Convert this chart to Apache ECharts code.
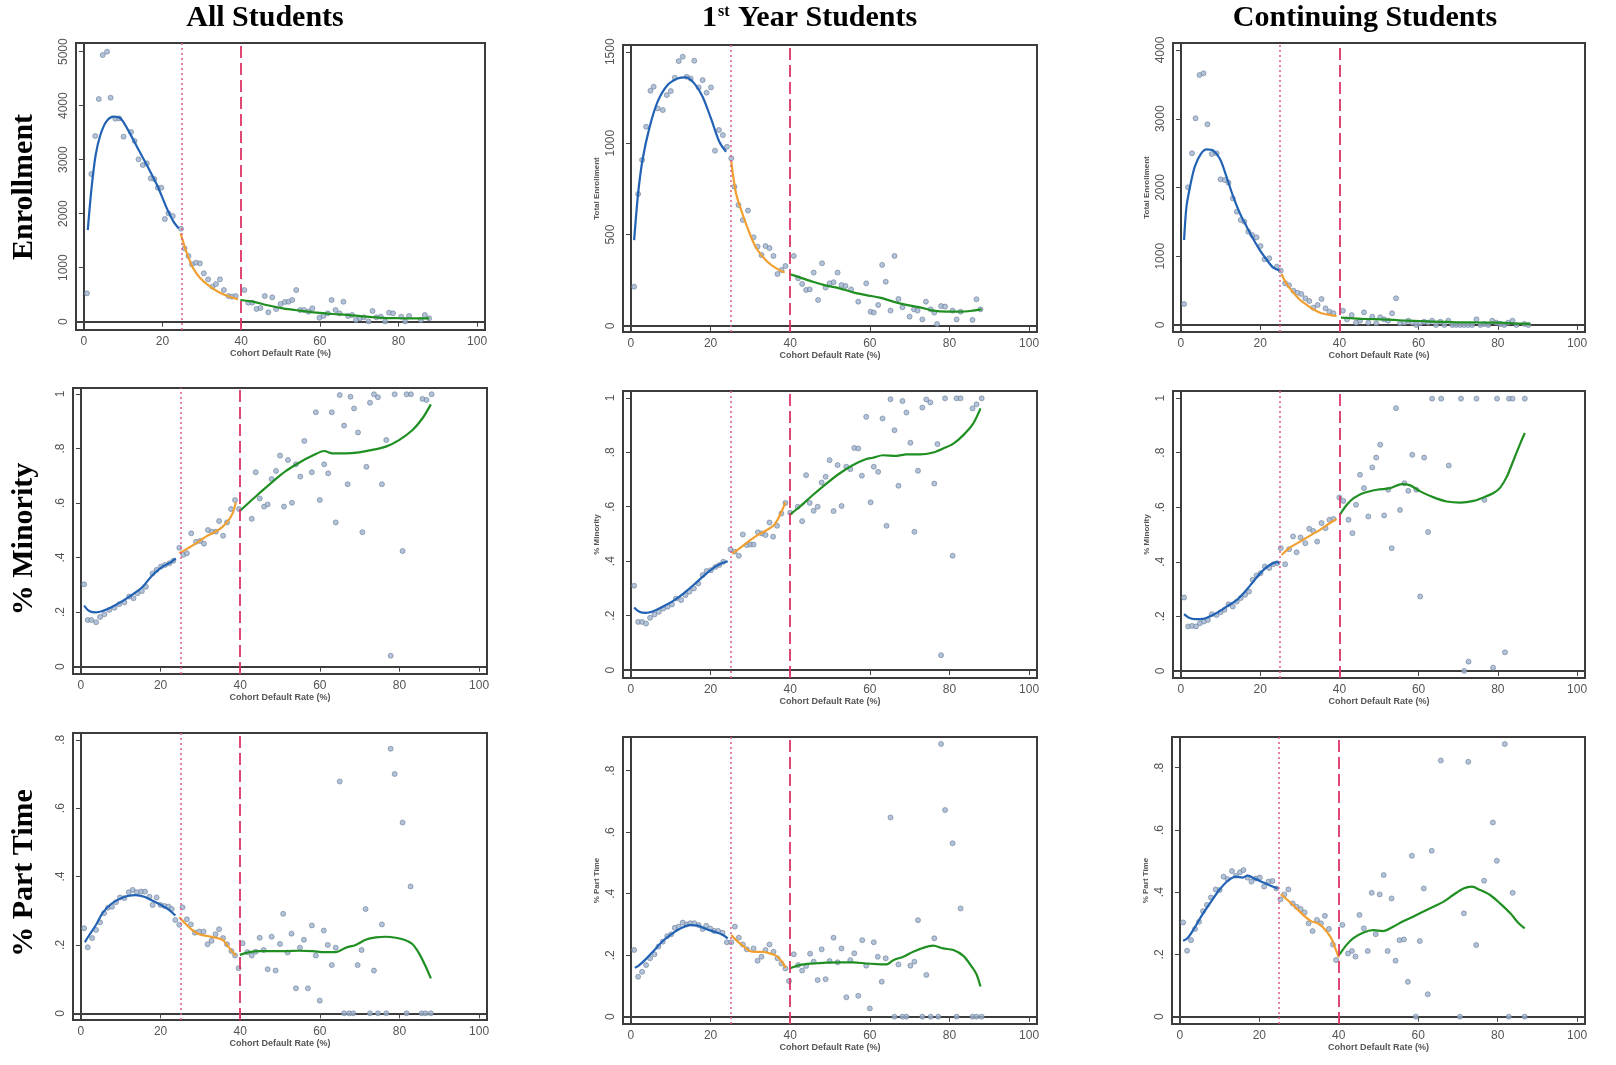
<!DOCTYPE html>
<html>
<head>
<meta charset="utf-8">
<script src="https://cdn.jsdelivr.net/npm/echarts@6/dist/echarts.min.js"></script>
<style>
  html, body { margin: 0; padding: 0; background: #fff; }
  #chart { width: 1616px; height: 1065px; }
</style>
</head>
<body>
<div id="chart"></div>
<script>
// x axis ticks, same for all panels
var xTicks = [0, 20, 40, 60, 80, 100];
var enrTicksAll = [0, 1000, 2000, 3000, 4000, 5000];
var enrTicksFirst = [0, 500, 1000, 1500];
var enrTicksCont = [0, 1000, 2000, 3000, 4000];
var minTicks = [0, 0.2, 0.4, 0.6, 0.8, 1];
var ptTicks = [0, 0.2, 0.4, 0.6, 0.8];

var colTitles = ['All Students', '1st Year Students', 'Continuing Students'];
var rowTitles = ['Enrollment', '% Minority', '% Part Time'];

// ---- Enrollment, all students
var allEnr = [[0.8,525],[1.9,2735],[2.9,3438],[3.8,4123],[4.8,4938],[5.9,5000],[6.8,4148],[8.0,3759],[9.0,3765],[10.1,3426],[12.0,3512],[12.9,3346],[13.9,3006],[15.0,2901],[16.0,2932],[17.0,2654],[17.9,2642],[18.8,2481],[19.7,2481],[20.6,1901],[21.5,2006],[22.6,1957],[24.7,1722],
  [25.6,1358],[26.6,1216],[27.5,1062],[28.5,1093],[29.5,1080],[30.5,895],[31.6,784],[32.7,648],[33.6,697],[34.6,784],[35.6,586],[36.8,475],[37.7,463],[38.6,475],
  [40.8,586],[41.8,352],[42.8,352],[43.9,235],[44.9,253],[46,475],[46.9,173],[47.9,451],[48.9,235],[50,327],[51.1,364],[52,370],[53,401],[54,586],[55,216],[56,216],[57.1,185],[58.1,247],[59.9,74],[60.9,105],[62,154],[63,401],[64,216],[65,154],[66,370],[67.2,105],[68.2,123],[69.2,31],[70.2,62],[71.2,80],[72.4,5],[73.4,198],[74.4,80],[75.5,93],[76.6,5],[77.6,167],[78.6,154],[80.7,93],[81.7,5],[82.7,105],[85.7,31],[86.7,123],[87.8,62]];
var allEnrBlue = [[1.0,1698],[1.9,2438],[3.0,3086],[4.2,3457],[5.7,3704],[7.6,3796],[9.3,3765],[11.0,3580],[13.5,3241],[16,2901],[18.6,2531],[21.1,2099],[22.8,1852],[24.1,1728]];
var allEnrOrange = [[24.6,1636],[26.2,1265],[27.8,988],[29.5,815],[32.1,648],[34.6,537],[37.1,463],[39.2,414]];
var allEnrGreen = [[39.8,401],[43,370],[46.4,309],[50.6,247],[54.9,204],[59.1,167],[63.3,142],[67.5,123],[71.7,93],[75.9,70],[80.2,64],[84.4,62],[87.8,62]];

// ---- Enrollment, 1st year
var fyEnr = [[0.8,215],[1.8,722],[2.8,908],[3.8,1090],[4.9,1287],[5.7,1309],[6.7,1190],[8.0,1181],[9.0,1263],[10.0,1285],[11.0,1358],[12.0,1449],[13.0,1473],[14.0,1363],[15.0,1354],[15.9,1451],[17.0,1305],[18.0,1345],[19.0,1276],[20.1,1305],[21.1,959],[22.1,1072],[23.1,1044],[24.1,980],[25.2,917],
  [26.0,762],[27.0,662],[28.1,580],[29.4,631],[30.8,485],[31.8,434],[32.8,388],[33.8,437],[34.8,426],[35.8,383],[36.8,284],[37.8,306],[38.8,328],
  [40.9,383],[42,261],[43,230],[44,197],[44.9,200],[45.9,292],[47,142],[48,343],[48.9,210],[49.9,233],[50.9,239],[51.9,292],[52.9,224],[53.9,219],[55.3,200],[57.1,133],[59.1,233],[60.2,78],[61,73],[62.1,115],[63.1,334],[64,242],[65.2,84],[66.2,383],[67.2,148],[68.2,102],[70,51],[71.1,91],[72,84],[73.2,36],[74.1,133],[75.3,91],[76.2,73],[76.9,11],[77.9,109],[78.9,106],[80.8,84],[81.8,36],[82.8,78],[85.8,33],[86.8,146],[87.8,91]];
var fyEnrBlue = [[0.8,470],[1.8,725],[2.9,908],[4.6,1081],[6.7,1227],[9.2,1318],[11.7,1354],[13.8,1360],[15.9,1327],[18,1254],[20.1,1135],[22.2,1008],[23.9,953]];
var fyEnrOrange = [[25.2,900],[26.4,725],[28.1,607],[29.8,507],[31.5,425],[34,357],[36.5,315],[38.6,292]];
var fyEnrGreen = [[39.8,284],[42.4,266],[45.7,242],[49.1,221],[52.4,206],[55.8,184],[59.1,169],[62.5,155],[65.9,133],[69.2,115],[72.6,102],[75.9,84],[79.3,78],[82.6,78],[86,84],[88.1,91]];

// ---- Enrollment, continuing
var ctEnr = [[0.8,305],[1.8,2002],[2.8,2497],[3.7,3006],[4.7,3636],[5.7,3661],[6.7,2919],[7.8,2487],[9.0,2497],[10.0,2119],[11.1,2109],[12.0,2070],[13.1,1842],[14.1,1648],[15.1,1527],[16.0,1503],[17.0,1358],[18.0,1309],[19.1,1275],[20.1,1149],[21.1,955],[22.3,970],[24.2,848],[25.2,790],
  [26.3,606],[27.3,577],[28.4,499],[29.4,470],[30.4,451],[31.4,388],[32.4,349],[33.4,252],[34.5,291],[35.5,378],[36.5,242],[37.5,194],[38.5,170],
  [40.9,208],[41.9,82],[43.1,145],[44.2,34],[45.2,63],[46.2,184],[47.3,34],[48.3,121],[49.3,24],[50.3,112],[51.3,82],[52.3,63],[53.3,170],[54.3,388],[55.3,24],[56.4,34],[57.4,63],[58.4,34],[59.4,0],[60.4,24],[61.4,48],[62.4,34],[63.4,63],[64.4,0],[65.5,48],[66.5,0],[67.5,63],[68.5,0],[69.5,0],[70.5,0],[71.5,0],[72.5,0],[73.5,0],[74.6,82],[75.6,0],[76.6,15],[77.6,0],[78.6,63],[79.6,34],[80.6,15],[81.6,0],[82.6,34],[83.7,63],[84.7,0],[86.7,15],[87.7,0]];
var ctEnrBlue = [[0.8,1236],[1.4,1721],[2.3,2012],[3.5,2303],[5.0,2487],[6.5,2555],[8.2,2536],[9.9,2410],[11.5,2158],[13.2,1867],[14.9,1624],[16.6,1430],[18.3,1246],[20,1081],[21.7,945],[23.3,834],[25,790]];
var ctEnrOrange = [[25.4,742],[26.7,596],[28.4,470],[30.1,364],[31.8,291],[33.4,228],[35.1,179],[36.8,155],[39.3,131]];
var ctEnrGreen = [[40.4,107],[43.6,97],[46.9,87],[50.3,82],[53.7,73],[57,63],[60.4,58],[63.8,48],[67.1,44],[70.5,39],[73.9,39],[77.3,34],[80.6,34],[84,24],[88.2,15]];

// ---- % Minority, all students
var allMin = [[0.8,0.302],[1.7,0.171],[2.6,0.171],[3.8,0.163],[4.8,0.182],[5.9,0.192],[7.1,0.208],[8.4,0.216],[9.6,0.229],[10.9,0.236],[12.1,0.257],[13.2,0.251],[14.2,0.269],[15.3,0.277],[16.3,0.293],[18.0,0.342],[19.0,0.355],[20.1,0.367],[21.1,0.373],[22.2,0.379],[23.2,0.388],[24.7,0.436],
  [25.7,0.41],[26.6,0.416],[27.7,0.489],[28.9,0.458],[29.9,0.461],[30.9,0.451],[31.9,0.501],[32.9,0.495],[33.9,0.495],[34.7,0.534],[35.7,0.48],[36.7,0.529],[37.7,0.578],[38.7,0.611],
  [39.7,0.578],[42.9,0.542],[43.9,0.713],[44.9,0.617],[46,0.587],[46.9,0.595],[47.9,0.688],[49,0.718],[50,0.774],[51,0.587],[52,0.758],[53,0.601],[54,0.742],[55.1,0.697],[56.1,0.828],[58,0.713],[59,0.933],[60,0.611],[61.1,0.742],[62.1,0.709],[63,0.933],[64,0.529],[65,0.996],[66.1,0.884],[67,0.669],[67.7,0.99],[68.6,0.947],[69.6,0.859],[70.7,0.493],[71.7,0.733],[72.6,0.968],[73.6,0.999],[74.6,0.988],[75.6,0.669],[76.7,0.831],[77.8,0.04],[78.8,0.999],[80.8,0.424],[81.8,0.999],[82.9,0.999],[85.8,0.982],[86.8,0.978],[88.1,0.999]];
var allMinBlue = [[0.8,0.224],[2.1,0.204],[3.8,0.199],[5.4,0.204],[7.9,0.22],[10.5,0.241],[13,0.265],[15.5,0.293],[18,0.336],[20.5,0.367],[22.6,0.383],[23.8,0.397]];
var allMinOrange = [[24.7,0.416],[26.4,0.43],[28.9,0.452],[31.4,0.477],[33.5,0.493],[35.1,0.507],[36.8,0.532],[38.1,0.562],[38.9,0.603]];
var allMinGreen = [[39.9,0.571],[42.3,0.603],[44.8,0.636],[48.1,0.678],[51.5,0.718],[54.8,0.748],[58.2,0.774],[61.1,0.791],[63.2,0.782],[66.5,0.782],[69.9,0.786],[73.2,0.795],[76.6,0.807],[79.9,0.831],[83.3,0.868],[85.8,0.911],[87.9,0.962]];

// ---- % Minority, 1st year
var fyMin = [[0.8,0.31],[1.8,0.177],[2.8,0.177],[3.8,0.171],[4.8,0.192],[5.9,0.204],[7.0,0.214],[8.1,0.226],[9.2,0.233],[10.3,0.241],[11.3,0.263],[12.6,0.257],[13.7,0.275],[14.7,0.288],[15.8,0.3],[16.9,0.318],[18,0.349],[19,0.364],[20.1,0.367],[21.2,0.379],[22.2,0.386],[23.2,0.398],[25,0.443],
  [26,0.435],[27.1,0.42],[28.1,0.498],[29.1,0.459],[30,0.461],[30.8,0.461],[31.9,0.506],[32.9,0.502],[33.8,0.496],[34.8,0.542],[35.7,0.49],[36.7,0.53],[37.8,0.575],[38.8,0.614],
  [40,0.578],[41.9,0.6],[43,0.547],[44,0.716],[44.9,0.614],[45.9,0.585],[46.9,0.6],[47.9,0.689],[48.9,0.71],[49.9,0.771],[50.9,0.584],[51.9,0.753],[52.9,0.603],[54.1,0.747],[55.1,0.738],[56.1,0.816],[57.1,0.814],[58,0.714],[59.1,0.93],[60.2,0.616],[61,0.747],[62.1,0.728],[63.2,0.924],[64.2,0.53],[65.2,0.995],[66.2,0.881],[67.2,0.677],[68.2,0.988],[69.2,0.946],[70.2,0.835],[71.2,0.508],[72.1,0.732],[73.2,0.964],[74.2,0.994],[75.2,0.983],[76.2,0.685],[77,0.83],[77.9,0.055],[78.9,0.998],[80.8,0.42],[81.8,0.998],[82.8,0.998],[85.8,0.961],[86.8,0.976],[88.1,0.998]];
var fyMinBlue = [[0.8,0.23],[2.1,0.214],[3.8,0.21],[5.9,0.218],[8.4,0.236],[10.9,0.257],[13.4,0.284],[15.9,0.315],[18.5,0.349],[21,0.378],[23.1,0.394],[24.3,0.4]];
var fyMinOrange = [[25.4,0.428],[27.3,0.447],[29.4,0.471],[31.5,0.493],[33.6,0.51],[35.7,0.529],[36.9,0.554],[38,0.588],[38.8,0.616]];
var fyMinGreen = [[40,0.572],[42.4,0.6],[45.7,0.643],[49.1,0.685],[52.4,0.722],[55.8,0.753],[59.1,0.775],[60.8,0.78],[63.3,0.789],[66.7,0.787],[69.2,0.792],[72.6,0.792],[75.9,0.799],[78.4,0.814],[81,0.832],[83.5,0.863],[86,0.906],[87.8,0.961]];

// ---- % Minority, continuing
var ctMin = [[0.8,0.269],[1.8,0.163],[2.8,0.165],[3.8,0.163],[4.8,0.175],[5.8,0.181],[6.8,0.187],[7.8,0.208],[9,0.205],[10,0.215],[11,0.224],[12,0.244],[13.1,0.236],[14.1,0.254],[15.1,0.267],[16.2,0.279],[17.2,0.291],[18.1,0.334],[19.1,0.35],[20.1,0.358],[21.2,0.383],[22.3,0.377],[23.3,0.391],[24.3,0.395],[25.2,0.45],
  [26.3,0.391],[27.3,0.446],[28.3,0.493],[29.2,0.435],[30.2,0.489],[31.4,0.468],[32.4,0.521],[33.4,0.513],[34.4,0.474],[35.5,0.542],[36.5,0.523],[37.5,0.554],[38.5,0.557],
  [40,0.636],[41,0.623],[42.3,0.554],[43.3,0.505],[44.2,0.609],[45.2,0.719],[46.2,0.67],[47.3,0.566],[48.3,0.746],[49.3,0.782],[50.3,0.829],[51.3,0.57],[52.3,0.664],[53.2,0.45],[54.3,0.963],[55.3,0.59],[56.4,0.688],[57.4,0.66],[58.4,0.792],[59.4,0.664],[60.4,0.273],[61.4,0.782],[62.4,0.509],[63.4,0.998],[65.7,0.998],[67.6,0.753],[70.7,0.998],[71.5,0],[72.6,0.034],[74.6,0.998],[76.6,0.627],[78.8,0.012],[79.8,0.998],[81.8,0.068],[82.8,0.998],[83.7,0.998],[86.8,0.998]];
var ctMinBlue = [[0.8,0.208],[1.9,0.196],[3.5,0.19],[5.6,0.191],[7.8,0.203],[9.9,0.22],[12,0.24],[14.1,0.26],[16.2,0.291],[18.3,0.328],[20.4,0.364],[22.5,0.389],[24.2,0.399],[24.9,0.395]];
var ctMinOrange = [[25.4,0.425],[27.5,0.452],[30.1,0.474],[32.6,0.496],[35.1,0.517],[37.6,0.542],[39.3,0.557]];
var ctMinGreen = [[40.2,0.575],[41.9,0.609],[43.6,0.633],[46.1,0.652],[49.5,0.664],[52.8,0.67],[55.8,0.685],[57.9,0.68],[60.4,0.658],[63.8,0.636],[67.1,0.621],[70.5,0.617],[73.9,0.623],[76.4,0.636],[78.9,0.652],[80.6,0.672],[82.3,0.713],[84,0.774],[85.7,0.835],[86.8,0.872]];

// ---- % Part Time, all students
var allPt = [[0.8,0.249],[1.7,0.193],[2.8,0.22],[3.8,0.244],[4.8,0.266],[5.8,0.293],[6.8,0.309],[7.8,0.312],[8.8,0.325],[9.8,0.339],[10.9,0.337],[12,0.354],[13,0.361],[14,0.354],[15.1,0.356],[16.1,0.356],[17.2,0.341],[18,0.317],[19,0.339],[20,0.317],[21,0.314],[22,0.312],[22.8,0.305],[23.7,0.273],[24.7,0.259],
  [25.5,0.31],[26.6,0.275],[27.6,0.26],[28.6,0.236],[29.7,0.239],[30.8,0.239],[31.8,0.202],[32.8,0.212],[33.8,0.231],[34.7,0.246],[35.7,0.22],[36.7,0.202],[37.8,0.182],[38.7,0.169],
  [39.6,0.132],[40.6,0.205],[41.8,0.179],[42.9,0.169],[43.9,0.18],[44.9,0.221],[45.9,0.185],[46.9,0.129],[47.9,0.224],[48.9,0.125],[50,0.203],[50.8,0.291],[51.9,0.178],[52.9,0.233],[54,0.073],[55,0.192],[56,0.215],[57,0.073],[58,0.257],[59,0.169],[60,0.037],[61,0.242],[62,0.2],[63,0.141],[64,0.192],[65,0.678],[66.1,0],[67.4,0],[68.4,0],[69.5,0.141],[70.5,0.185],[71.5,0.305],[72.6,0],[73.6,0.125],[74.6,0],[75.6,0.26],[76.7,0],[77.8,0.774],[78.8,0.7],[80.8,0.558],[81.8,0],[82.8,0.371],[85.6,0],[86.6,0],[87.9,0]];
var allPtBlue = [[1,0.208],[2.1,0.229],[3.8,0.259],[5.4,0.293],[7.5,0.319],[9.6,0.334],[11.7,0.343],[13.8,0.346],[15.9,0.341],[18,0.329],[20.1,0.317],[22.2,0.302],[23.7,0.286]];
var allPtOrange = [[24.7,0.281],[25.9,0.266],[27.6,0.247],[29.7,0.231],[31.8,0.226],[33.9,0.221],[35.6,0.215],[36.8,0.198],[38.1,0.179],[38.9,0.169]];
var allPtGreen = [[39.9,0.171],[42.3,0.179],[44.8,0.182],[48.1,0.182],[51.5,0.182],[54.8,0.183],[58.2,0.182],[61.1,0.179],[64,0.179],[66.5,0.192],[69,0.2],[71.5,0.215],[74.1,0.222],[76.6,0.224],[79.1,0.221],[81.2,0.215],[83.3,0.202],[84.9,0.176],[86.6,0.137],[87.9,0.102]];

// ---- % Part Time, 1st year
var fyPt = [[0.8,0.217],[1.8,0.13],[2.8,0.146],[3.8,0.168],[4.8,0.19],[5.9,0.203],[6.9,0.228],[8,0.244],[9.1,0.262],[10.1,0.268],[11,0.289],[12,0.293],[13,0.306],[14,0.3],[14.9,0.304],[15.9,0.304],[17,0.298],[18,0.285],[18.9,0.296],[19.9,0.287],[20.9,0.279],[21.9,0.279],[23,0.273],[24.1,0.242],[25.2,0.242],
  [26.1,0.293],[27.1,0.257],[28.1,0.235],[29.1,0.219],[30.8,0.222],[31.8,0.182],[32.8,0.195],[33.8,0.217],[34.8,0.235],[35.8,0.211],[36.8,0.19],[37.8,0.173],[38.8,0.157],
  [39.7,0.116],[40.9,0.203],[42,0.168],[43,0.15],[44,0.165],[45,0.205],[45.9,0.179],[46.9,0.119],[47.9,0.219],[48.9,0.122],[49.9,0.181],[50.9,0.257],[51.9,0.177],[52.9,0.222],[54.1,0.063],[55.1,0.184],[56.1,0.206],[57.1,0.068],[58.1,0.249],[59.1,0.166],[60,0.027],[61,0.242],[62,0.195],[63,0.114],[64,0.19],[65.2,0.648],[66.2,0],[67.2,0.17],[68.2,0],[69.2,0],[70.2,0.166],[71.2,0.179],[72.1,0.314],[73.2,0],[74.2,0.136],[75.3,0],[76.2,0.255],[77.2,0],[77.9,0.887],[78.9,0.672],[80.8,0.564],[81.8,0],[82.8,0.352],[85.8,0],[86.8,0],[88.1,0]];
var fyPtBlue = [[1,0.159],[2.1,0.168],[3.8,0.188],[5.9,0.217],[8,0.246],[10.1,0.268],[12.2,0.285],[14.7,0.298],[16.8,0.296],[18.9,0.285],[21,0.276],[23.1,0.266],[24.3,0.255]];
var fyPtOrange = [[25.2,0.266],[26.4,0.249],[28.1,0.231],[29.8,0.214],[31.5,0.211],[33.1,0.211],[34.8,0.206],[36.5,0.198],[37.8,0.181],[38.9,0.159]];
var fyPtGreen = [[39.8,0.157],[42.4,0.168],[45.7,0.173],[49.1,0.176],[52.4,0.177],[55.8,0.177],[59.1,0.173],[61.7,0.171],[64.2,0.17],[65.9,0.184],[68.4,0.195],[70.9,0.211],[73.4,0.224],[75.9,0.231],[78.4,0.222],[81,0.217],[83.5,0.198],[85.6,0.163],[86.8,0.138],[87.8,0.098]];

// ---- % Part Time, continuing
var ctPt = [[0.8,0.303],[1.8,0.212],[2.8,0.246],[3.8,0.282],[4.8,0.305],[5.8,0.339],[6.8,0.359],[7.8,0.383],[9,0.409],[10,0.407],[11,0.45],[12,0.442],[13.1,0.468],[14.1,0.453],[15.1,0.464],[16,0.471],[17,0.447],[18,0.434],[19.1,0.444],[20.1,0.447],[21.2,0.418],[22.3,0.434],[23.3,0.436],[24.3,0.412],[25.3,0.377],
  [26.3,0.393],[27.3,0.409],[28.4,0.364],[29.4,0.353],[30.4,0.346],[31.4,0.335],[32.4,0.3],[33.4,0.275],[34.5,0.311],[35.5,0.3],[36.5,0.324],[37.5,0.282],[38.5,0.232],[39.3,0.182],
  [40.9,0.295],[42.3,0.203],[43.3,0.211],[44.2,0.193],[45.2,0.327],[46.3,0.284],[47.3,0.211],[48.3,0.398],[49.3,0.265],[50.3,0.393],[51.3,0.455],[52.3,0.211],[53.3,0.38],[54.3,0.18],[55.3,0.246],[56.4,0.248],[57.4,0.112],[58.4,0.517],[59.4,0],[60.4,0.243],[61.4,0.412],[62.4,0.072],[63.4,0.533],[65.7,0.823],[70.5,0],[71.5,0.332],[72.6,0.819],[74.6,0.23],[76.6,0.437],[78.8,0.624],[79.8,0.501],[81.8,0.876],[82.8,0],[83.8,0.398],[86.8,0]];
var ctPtBlue = [[0.8,0.244],[1.9,0.252],[3.5,0.282],[5.6,0.327],[7.8,0.369],[9.9,0.407],[12,0.436],[14.1,0.45],[15.8,0.447],[17,0.453],[19.1,0.442],[21.2,0.43],[23.3,0.418],[24.6,0.412]];
var ctPtOrange = [[25.4,0.394],[27.1,0.375],[29.2,0.35],[31.3,0.324],[33,0.307],[34.7,0.3],[36.4,0.282],[38.1,0.252],[39.3,0.214],[40,0.19]];
var ctPtGreen = [[40.2,0.2],[41.9,0.23],[43.6,0.252],[46.1,0.27],[48.6,0.278],[51.1,0.275],[53.7,0.289],[56.2,0.307],[58.7,0.321],[61.2,0.337],[63.8,0.353],[66.3,0.369],[68.8,0.391],[71.4,0.412],[73.5,0.418],[75.6,0.407],[78.1,0.391],[80.6,0.364],[83.2,0.332],[85.3,0.3],[86.8,0.284]];

// panels, row by row
var panels = [
  { pts: allEnr, fits: [allEnrBlue, allEnrOrange, allEnrGreen], ticks: enrTicksAll, name: '' },
  { pts: fyEnr, fits: [fyEnrBlue, fyEnrOrange, fyEnrGreen], ticks: enrTicksFirst, name: 'Total Enrollment' },
  { pts: ctEnr, fits: [ctEnrBlue, ctEnrOrange, ctEnrGreen], ticks: enrTicksCont, name: 'Total Enrollment' },
  { pts: allMin, fits: [allMinBlue, allMinOrange, allMinGreen], ticks: minTicks, name: '' },
  { pts: fyMin, fits: [fyMinBlue, fyMinOrange, fyMinGreen], ticks: minTicks, name: '% Minority' },
  { pts: ctMin, fits: [ctMinBlue, ctMinOrange, ctMinGreen], ticks: minTicks, name: '% Minority' },
  { pts: allPt, fits: [allPtBlue, allPtOrange, allPtGreen], ticks: ptTicks, name: '' },
  { pts: fyPt, fits: [fyPtBlue, fyPtOrange, fyPtGreen], ticks: ptTicks, name: '% Part Time' },
  { pts: ctPt, fits: [ctPtBlue, ctPtOrange, ctPtGreen], ticks: ptTicks, name: '% Part Time' }
];

// frame of each plot: left, top, right, bottom (px), and y range
var frames = [
  [76, 43, 485, 330, -154, 5161],
  [623, 45, 1037, 332, -33, 1537],
  [1173, 43, 1585, 332, -102, 4102],
  [73, 388, 487, 674, -0.027, 1.022],
  [623, 391, 1037, 678, -0.029, 1.025],
  [1173, 391, 1585, 678, -0.026, 1.026],
  [73, 733, 487, 1020, -0.0196, 0.820],
  [623, 737, 1037, 1024, -0.0237, 0.9096],
  [1172, 737, 1585, 1024, -0.0235, 0.8987]
];

var fitColors = ['#2262b4', '#f0a032', '#1f8f22'];
var tickFont = '"Liberation Sans", Arial, sans-serif';

function fmtY(v) {
  if (v === 0) return '0';
  if (v === 1) return '1';
  if (v < 1) return String(+v.toFixed(1)).replace(/^0/, '');
  return String(v);
}

var chart = echarts.init(document.getElementById('chart'));

var grids = [], xAxes = [], yAxes = [], series = [];
panels.forEach(function (p, i) {
  var f = frames[i];
  grids.push({
    left: f[0], top: f[1], width: f[2] - f[0], height: f[3] - f[1],
    show: true, borderColor: '#3c3c3c', borderWidth: 2, backgroundColor: '#fff'
  });
  xAxes.push({
    gridIndex: i, type: 'value', min: -2, max: 102,
    name: 'Cohort Default Rate (%)', nameLocation: 'middle', nameGap: 17,
    nameTextStyle: { fontSize: 9, fontWeight: 'bold', color: '#555', fontFamily: tickFont },
    axisLine: { show: true, lineStyle: { color: '#3c3c3c', width: 2 } },
    axisTick: { show: true, length: 5, customValues: xTicks, lineStyle: { color: '#444' } },
    axisLabel: { customValues: xTicks, fontSize: 12, color: '#555', margin: 6, fontFamily: tickFont },
    splitLine: { show: false }
  });
  yAxes.push({
    gridIndex: i, type: 'value', min: f[4], max: f[5],
    name: p.name, nameLocation: 'middle', nameGap: 22, nameRotate: 90,
    nameTextStyle: { fontSize: 8, fontWeight: 'bold', color: '#555', fontFamily: tickFont },
    axisLine: { show: true, lineStyle: { color: '#3c3c3c', width: 2 } },
    axisTick: { show: true, length: 5, customValues: p.ticks, lineStyle: { color: '#444' } },
    axisLabel: { customValues: p.ticks, rotate: 90, fontSize: 12, color: '#555', margin: 6,
      fontFamily: tickFont, formatter: fmtY },
    splitLine: { show: false }
  });
  series.push({
    type: 'scatter', xAxisIndex: i, yAxisIndex: i, data: p.pts,
    symbolSize: 5, z: 2,
    itemStyle: { color: '#9fb4d0', borderColor: '#6e7f97', borderWidth: 0.8 },
    markLine: {
      silent: true, symbol: ['none', 'none'], label: { show: false },
      data: [
        { xAxis: 25, lineStyle: { type: [2, 3], color: '#e2578a', width: 1.5 } },
        { xAxis: 40, lineStyle: { type: [12, 5], color: '#dc3565', width: 1.8 } }
      ]
    }
  });
  p.fits.forEach(function (fit, k) {
    series.push({
      type: 'line', xAxisIndex: i, yAxisIndex: i, data: fit,
      smooth: 0.3, showSymbol: false, z: 3,
      lineStyle: { color: fitColors[k], width: 2.2 }
    });
  });
});

var serif = '"Liberation Serif", "Times New Roman", serif';
var graphics = [
  { type: 'text', x: 265, y: 18, style: { text: colTitles[0], font: 'bold 30px ' + serif, fill: '#000', align: 'center', verticalAlign: 'middle' } },
  { type: 'text', x: 717, y: 18, style: { text: '1', font: 'bold 30px ' + serif, fill: '#000', align: 'right', verticalAlign: 'middle' } },
  { type: 'text', x: 718, y: 12, style: { text: 'st', font: 'bold 16px ' + serif, fill: '#000', align: 'left', verticalAlign: 'middle' } },
  { type: 'text', x: 738, y: 18, style: { text: 'Year Students', font: 'bold 30px ' + serif, fill: '#000', align: 'left', verticalAlign: 'middle' } },
  { type: 'text', x: 1365, y: 18, style: { text: colTitles[2], font: 'bold 30px ' + serif, fill: '#000', align: 'center', verticalAlign: 'middle' } }
];
var rowY = [187, 539, 873];
rowTitles.forEach(function (t, r) {
  graphics.push({
    type: 'text', x: 24, y: rowY[r], rotation: Math.PI / 2,
    style: { text: t, font: 'bold 30px ' + serif, fill: '#000', align: 'center', verticalAlign: 'middle' }
  });
});

chart.setOption({
  animation: false,
  backgroundColor: '#fff',
  grid: grids,
  xAxis: xAxes,
  yAxis: yAxes,
  series: series,
  graphic: graphics
});
</script>
</body>
</html>
